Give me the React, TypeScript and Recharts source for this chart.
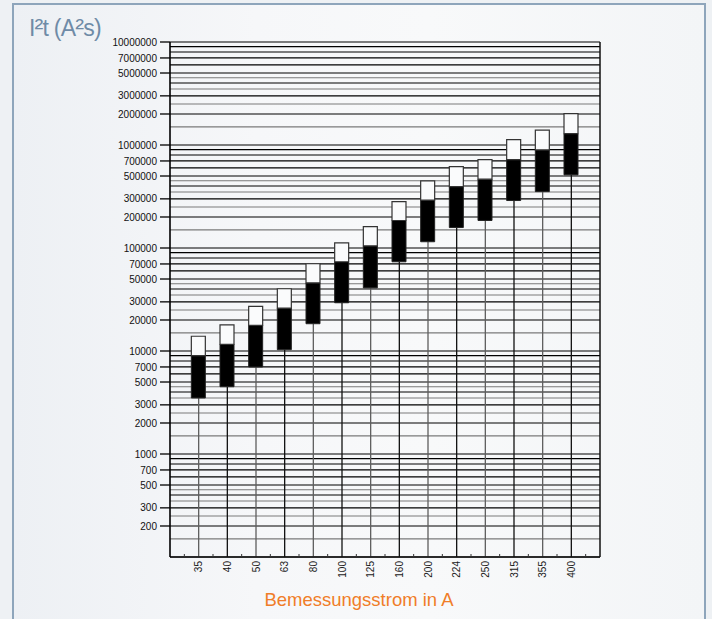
import React from "react";
import { Bar, ComposedChart, ReferenceLine, XAxis, YAxis } from "recharts";

// Bemessungsstrom (A) and I²t range per fuse (A²s)
const categories = ["35", "40", "50", "63", "80", "100", "125", "160", "200", "224", "250", "315", "355", "400"];
const lowValues = [3500, 4500, 7000, 10300, 18400, 29400, 41000, 73500, 115000, 158000, 185000, 289000, 353000, 513000];
const midValues = [9000, 11600, 17700, 26100, 45900, 73500, 105000, 185000, 292000, 395000, 466000, 721000, 896000, 1291000];
const highValues = [13900, 17900, 27100, 40200, 70300, 112000, 161000, 282000, 449000, 618000, 721000, 1127000, 1392000, 2018000];

const yTicks = [
  200, 300, 500, 700, 1000, 2000, 3000, 5000, 7000, 10000, 20000, 30000, 50000, 70000,
  100000, 200000, 300000, 500000, 700000, 1000000, 2000000, 3000000, 5000000, 7000000, 10000000,
];
const decades = [100, 1000, 10000, 100000, 1000000];
const gridSteps = [1, 2, 3, 4, 5, 6, 7, 8, 9];
const halfSteps = [1.5, 2.5, 3.5, 4.5];

const blackGrid = [...decades.flatMap((d) => gridSteps.map((s) => s * d)), 10000000];
const grayGrid = decades.flatMap((d) => halfSteps.map((s) => s * d));

const data = categories.map((label, i) => ({
  pos: i + 1,
  label,
  lower: [lowValues[i], midValues[i]],
  upper: [midValues[i], highValues[i]],
}));

const xTicks = [0.5, 1, 1.5, 2, 2.5, 3, 3.5, 4, 4.5, 5, 5.5, 6, 6.5, 7, 7.5, 8, 8.5, 9, 9.5, 10, 10.5, 11, 11.5, 12, 12.5, 13, 13.5, 14, 14.5];

const XTick = (props: any) => {
  const { x, y, payload } = props;
  const v = payload.value;
  if (Number.isInteger(v)) {
    const tx = x + 3.5;
    const ty = y + 4;
    return (
      <text x={tx} y={ty} transform={`rotate(-90 ${tx} ${ty})`} textAnchor="end" fontSize={10} fill="#1a1a1a">
        {categories[v - 1]}
      </text>
    );
  }
  return <line x1={x} x2={x} y1={y} y2={y - 3} stroke="#333" />;
};

const sup = { fontSize: "1.15em", lineHeight: 0 };

export default function App() {
  return (
    <div
      style={{
        position: "absolute",
        left: 0,
        top: 0,
        width: 712,
        height: 619,
        overflow: "hidden",
        background: "#eef1f4",
        fontFamily: "'Liberation Sans', Arial, sans-serif",
      }}
    >
      <div
        style={{
          position: "absolute",
          left: 12,
          top: 3,
          width: 690,
          height: 700,
          border: "2px solid #8ea5bb",
          background: "linear-gradient(90deg, #edf0f4 0%, #f6f7f9 35%, #f8f9fa 60%, #f3f5f7 100%)",
        }}
      />
      <div
        style={{
          position: "absolute",
          left: 29,
          top: 15,
          fontSize: 23,
          lineHeight: "26px",
          letterSpacing: -0.8,
          color: "#6f8ba7",
          whiteSpace: "nowrap",
        }}
      >
        I<span style={sup}>²</span>t (A<span style={sup}>²</span>s)
      </div>
      <div style={{ position: "absolute", left: 0, top: 0 }}>
        <ComposedChart width={712} height={619} data={data} margin={{ top: 42, right: 112, left: 110, bottom: 32 }}>
          {blackGrid.map((v) => (
            <ReferenceLine key={"b" + v} y={v} xAxisId="main" stroke="#000" strokeWidth={1.2} zIndex={-90} />
          ))}
          {grayGrid.map((v) => (
            <ReferenceLine key={"g" + v} y={v} xAxisId="main" stroke="#7a7a7a" strokeWidth={1.1} zIndex={-90} />
          ))}
          {data.map((d, i) => (
            <ReferenceLine
              key={"v" + d.label}
              xAxisId="main"
              segment={[
                { x: d.pos, y: 100 },
                { x: d.pos, y: lowValues[i] },
              ]}
              stroke={i % 2 ? "#111" : "#5e5e5e"}
              strokeWidth={1.3}
              zIndex={-80}
            />
          ))}
          <ReferenceLine x={15} xAxisId="main" stroke="#111" strokeWidth={1.5} zIndex={-70} />
          <XAxis
            xAxisId="main"
            type="number"
            dataKey="pos"
            domain={[0, 15]}
            ticks={xTicks}
            interval={0}
            tick={<XTick />}
            tickLine={false}
            tickSize={0}
            tickMargin={0}
            height={30}
            axisLine={{ stroke: "#111", strokeWidth: 1.5 }}
            allowDataOverflow
          />
          <XAxis xAxisId="over" type="number" dataKey="pos" domain={[0, 15]} hide allowDataOverflow />
          <YAxis
            scale="log"
            type="number"
            domain={[100, 10000000]}
            ticks={yTicks}
            interval={0}
            allowDataOverflow
            width={60}
            tickSize={10}
            tickMargin={3}
            tick={{ fontSize: 10, fill: "#111" }}
            tickLine={{ stroke: "#000", strokeWidth: 1.3 }}
            axisLine={{ stroke: "#000", strokeWidth: 1.6 }}
          />
          <Bar xAxisId="main" dataKey="lower" barSize={14} fill="#000" stroke="#222" isAnimationActive={false} />
          <Bar xAxisId="over" dataKey="upper" barSize={14} fill="#fafbfc" stroke="#333" strokeWidth={1.2} isAnimationActive={false} />
        </ComposedChart>
      </div>
      <div
        style={{
          position: "absolute",
          left: 359,
          top: 589,
          transform: "translateX(-50%)",
          fontSize: 18.5,
          lineHeight: "21px",
          color: "#f07d28",
          whiteSpace: "nowrap",
        }}
      >
        Bemessungsstrom in A
      </div>
    </div>
  );
}
